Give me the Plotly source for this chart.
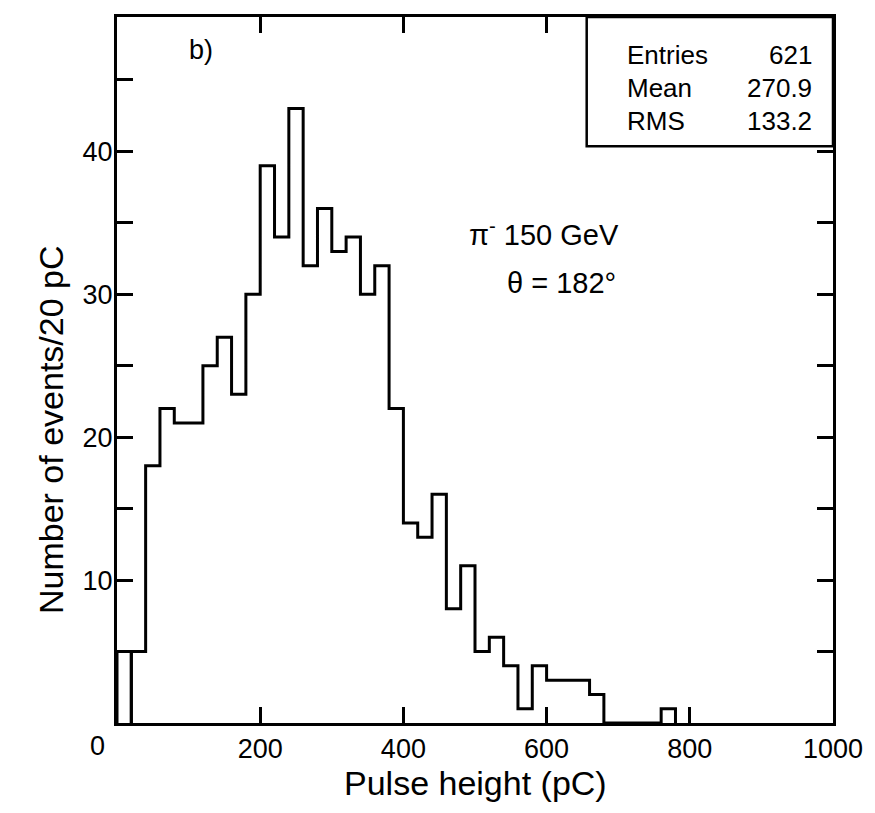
import plotly.graph_objects as go

# Pulse-height spectrum, 20 pC bins starting at 20 pC
bin_width = 20
first_edge = 20
counts = [5, 18, 22, 21, 21, 25, 27, 23, 30, 39, 34, 43, 32, 36, 33, 34, 30, 32,
          22, 14, 13, 16, 8, 11, 5, 6, 4, 1, 4, 3, 3, 3, 2, 0, 0, 0, 0, 1]
# content of the 0-20 pC bin (outside the statistics)
underflow = 5

stats_labels = ["Entries", "Mean", "RMS"]
stats_values = ["621", "270.9", "133.2"]

x_tick_vals = [200, 400, 600, 800, 1000]
y_tick_vals = [10, 20, 30, 40]

FONT = "Liberation Sans, Arial, Helvetica, sans-serif"
INK = "black"

# step outline of the histogram
edges = [first_edge + i * bin_width for i in range(len(counts) + 1)]
xs, ys = [edges[0]], [0]
for i, c in enumerate(counts):
    xs += [edges[i], edges[i + 1]]
    ys += [c, c]
xs.append(edges[-1])
ys.append(0)

fig = go.Figure()
fig.add_trace(go.Scatter(x=xs, y=ys, mode="lines",
                         line=dict(color=INK, width=3), hoverinfo="skip"))
# the 0-20 pC box
fig.add_trace(go.Scatter(x=[0, 0, bin_width, bin_width], y=[0, underflow, underflow, 0],
                         mode="lines", line=dict(color=INK, width=3), hoverinfo="skip"))

axis_common = dict(showline=True, linecolor=INK, linewidth=3, mirror="ticks",
                   ticks="inside", tickcolor=INK, tickwidth=3, ticklen=16,
                   showgrid=False, zeroline=False,
                   tickfont=dict(family=FONT, size=27, color=INK))

fig.update_xaxes(range=[0, 1000], tickvals=x_tick_vals,
                 ticktext=[str(v) for v in x_tick_vals], **axis_common)
fig.update_yaxes(range=[0, 49.4], tickvals=y_tick_vals,
                 ticktext=[str(v) for v in y_tick_vals],
                 minor=dict(tick0=0, dtick=5, ticks="inside", ticklen=16,
                            tickwidth=3, tickcolor=INK, showgrid=False),
                 ticklabelstandoff=-4, **axis_common)

annotations = [
    dict(text="0", x=0, y=0, xref="x", yref="y", xshift=-20, yshift=-23,
         showarrow=False, font=dict(family=FONT, size=27, color=INK)),
    dict(text="Pulse height (pC)", x=0.5, y=-0.085, xref="paper", yref="paper",
         yanchor="middle", showarrow=False,
         font=dict(family=FONT, size=34, color=INK)),
    dict(text="Number of events/20 pC", x=0, y=0.415, xref="paper", yref="paper",
         xshift=-87, textangle=-90, showarrow=False,
         font=dict(family=FONT, size=34, color=INK)),
    dict(text="b)", x=118, y=47.1, xref="x", yref="y", showarrow=False,
         font=dict(family=FONT, size=27, color=INK)),
    dict(text="π<sup>-</sup> 150 GeV", x=597, y=34.3, xref="x", yref="y",
         showarrow=False, font=dict(family=FONT, size=29, color=INK)),
    dict(text="θ = 182°", x=621, y=30.8, xref="x", yref="y",
         showarrow=False, font=dict(family=FONT, size=29, color=INK)),
]

# statistics box in the upper right corner
box_x0, box_y0 = 0.656, 0.817
fig.add_shape(type="rect", xref="paper", yref="paper", x0=box_x0, y0=box_y0, x1=1, y1=1,
              line=dict(color=INK, width=2.5), fillcolor="white")
row_y = [0.946, 0.899, 0.853]
for lbl, val, yy in zip(stats_labels, stats_values, row_y):
    annotations.append(dict(text=lbl, x=0.709, y=yy, xref="paper", yref="paper",
                            xanchor="left", yanchor="middle", showarrow=False,
                            font=dict(family=FONT, size=26, color=INK)))
    annotations.append(dict(text=val, x=0.974, y=yy, xref="paper", yref="paper",
                            xanchor="right", yanchor="middle", showarrow=False,
                            font=dict(family=FONT, size=26, color=INK)))

fig.update_layout(width=875, height=813, margin=dict(l=117, r=33, t=17, b=90),
                  paper_bgcolor="white", plot_bgcolor="white", showlegend=False,
                  annotations=annotations)

fig.write_html("out.html")
